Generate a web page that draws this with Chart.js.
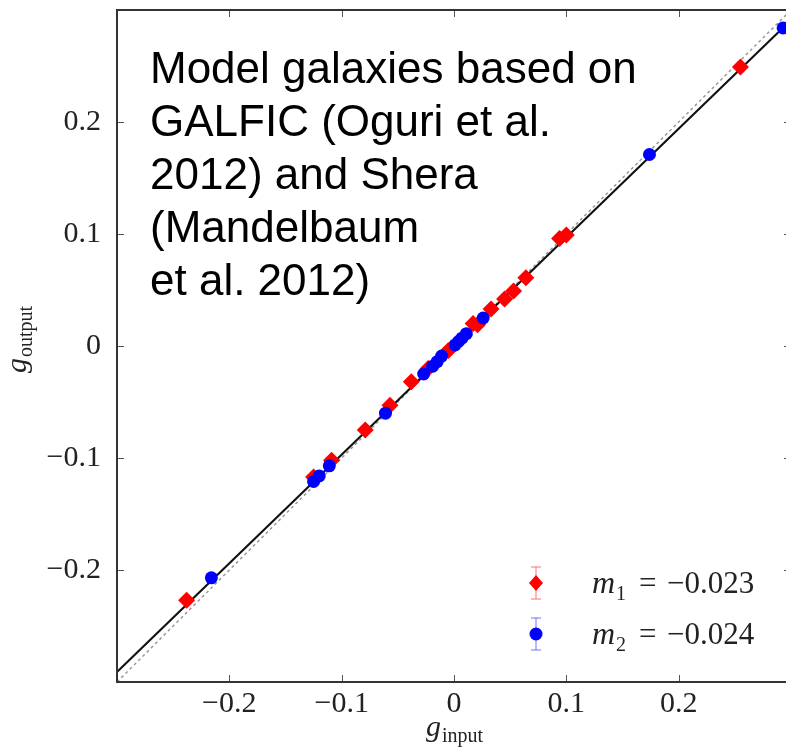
<!DOCTYPE html>
<html lang="en">
<head>
    <meta charset="UTF-8">
    <title>g_output vs g_input</title>
    <style>
        html, body {
            margin: 0;
            padding: 0;
            background: #fff;
            overflow: hidden;
        }
        #wrap {
            position: relative;
            width: 800px;
            height: 749px;
        }
    </style>
</head>
<body>
    <div id="wrap">
        <canvas id="shearChart" width="800" height="749"></canvas>
    </div>

    <script src="https://cdn.jsdelivr.net/npm/chart.js"></script>
    <script>
        // axis ticks
        const xTicks = [-0.2, -0.1, 0, 0.1, 0.2];
        const yTicks = [-0.2, -0.1, 0, 0.1, 0.2];

        // m1 (red diamonds)
        const redX = [-0.238, -0.125, -0.109, -0.079, -0.057, -0.038, -0.023, -0.005, 0.017, 0.021, 0.033, 0.045, 0.053, 0.064, 0.094, 0.100, 0.255];
        const redY = [-0.227, -0.117, -0.102, -0.075, -0.053, -0.032, -0.020, -0.004, 0.020, 0.019, 0.033, 0.042, 0.049, 0.061, 0.096, 0.099, 0.249];

        // m2 (blue circles)
        const blueX = [-0.216, -0.125, -0.120, -0.111, -0.061, -0.027, -0.019, -0.015, -0.011, 0.001, 0.004, 0.007, 0.011, 0.026, 0.174, 0.293];
        const blueY = [-0.207, -0.121, -0.116, -0.107, -0.060, -0.025, -0.018, -0.014, -0.009, 0.001, 0.004, 0.007, 0.011, 0.025, 0.171, 0.284];

        // fit line and y = x reference
        const fitX = [-0.3, 0.3];
        const fitY = [-0.291, 0.291];
        const unityX = [-0.3, 0.3];
        const unityY = [-0.3, 0.3];

        const legendLabels = [
            { sub: '1', value: '\u22120.023', color: '#ff0000', bar: '#ff7070', style: 'diamond' },
            { sub: '2', value: '\u22120.024', color: '#0000ff', bar: '#7070ff', style: 'circle' }
        ];

        const noteLines = [
            'Model galaxies based on',
            'GALFIC (Oguri et al.',
            '2012) and Shera',
            '(Mandelbaum',
            'et al. 2012)'
        ];

        const toPoints = (xs, ys) => xs.map((x, i) => ({ x: x, y: ys[i] }));

        const fmt = v => {
            if (Math.abs(v) < 1e-9) return '0';
            return (v < 0 ? '\u2212' : '') + Math.abs(v).toFixed(1);
        };

        const serif = '"Liberation Serif", "DejaVu Serif", serif';

        // frame, inward ticks, legend, titles and note
        const decorations = {
            id: 'decorations',
            afterDraw(chart) {
                const ctx = chart.ctx;
                const ca = chart.chartArea;
                const xs = chart.scales.x;
                const ys = chart.scales.y;
                ctx.save();

                // inward ticks
                ctx.strokeStyle = '#555';
                ctx.lineWidth = 1;
                ctx.beginPath();
                xTicks.forEach(v => {
                    const px = Math.round(xs.getPixelForValue(v)) + 0.5;
                    ctx.moveTo(px, ca.bottom); ctx.lineTo(px, ca.bottom - 7);
                    ctx.moveTo(px, ca.top); ctx.lineTo(px, ca.top + 7);
                });
                yTicks.forEach(v => {
                    const py = Math.round(ys.getPixelForValue(v)) + 0.5;
                    ctx.moveTo(ca.left, py); ctx.lineTo(ca.left + 7, py);
                    ctx.moveTo(ca.right, py); ctx.lineTo(ca.right - 7, py);
                });
                ctx.stroke();

                // frame
                ctx.strokeStyle = '#333';
                ctx.lineWidth = 2;
                ctx.strokeRect(ca.left, ca.top, ca.right - ca.left, ca.bottom - ca.top);

                // note text
                ctx.fillStyle = '#000';
                ctx.font = '44px "Liberation Sans", Arial, sans-serif';
                ctx.textAlign = 'left';
                ctx.textBaseline = 'alphabetic';
                noteLines.forEach((line, i) => {
                    ctx.fillText(line, ca.left + 33, ca.top + 73 + i * 53);
                });

                // legend
                legendLabels.forEach((item, i) => {
                    const mx = ca.right - 255;
                    const my = ca.bottom - 99 + i * 51;
                    ctx.strokeStyle = item.bar;
                    ctx.lineWidth = 1;
                    ctx.beginPath();
                    ctx.moveTo(mx, my - 16); ctx.lineTo(mx, my + 16);
                    ctx.moveTo(mx - 5, my - 16); ctx.lineTo(mx + 5, my - 16);
                    ctx.moveTo(mx - 5, my + 16); ctx.lineTo(mx + 5, my + 16);
                    ctx.stroke();
                    ctx.fillStyle = item.color;
                    ctx.beginPath();
                    if (item.style === 'diamond') {
                        ctx.moveTo(mx, my - 8); ctx.lineTo(mx + 7, my);
                        ctx.lineTo(mx, my + 8); ctx.lineTo(mx - 7, my);
                        ctx.closePath();
                    } else {
                        ctx.arc(mx, my, 6.5, 0, Math.PI * 2);
                    }
                    ctx.fill();

                    const tx = ca.right - 199;
                    const base = my + 10;
                    ctx.fillStyle = '#222';
                    ctx.font = 'italic 32px ' + serif;
                    ctx.fillText('m', tx, base);
                    const mw = ctx.measureText('m').width;
                    ctx.font = '20px ' + serif;
                    ctx.fillText(item.sub, tx + mw + 1, base + 7);
                    ctx.font = '31px ' + serif;
                    ctx.fillText('=', tx + 47, base);
                    ctx.fillText(item.value, tx + 75, base);
                });

                // axis titles
                ctx.fillStyle = '#222';
                const drawTitle = (sub) => {
                    ctx.font = 'italic 30px ' + serif;
                    const gw = ctx.measureText('g').width;
                    ctx.font = '20px ' + serif;
                    const sw = ctx.measureText(sub).width;
                    const start = -(gw + sw) / 2;
                    ctx.font = 'italic 30px ' + serif;
                    ctx.fillText('g', start, 0);
                    ctx.font = '20px ' + serif;
                    ctx.fillText(sub, start + gw + 1, 6);
                };
                ctx.save();
                ctx.translate((ca.left + ca.right) / 2, chart.height - 13);
                drawTitle('input');
                ctx.restore();
                ctx.save();
                ctx.translate(26, (ca.top + ca.bottom) / 2 - 6);
                ctx.rotate(-Math.PI / 2);
                drawTitle('output');
                ctx.restore();

                ctx.restore();
            }
        };

        new Chart(document.getElementById('shearChart').getContext('2d'), {
            type: 'scatter',
            data: {
                datasets: [
                    {
                        label: 'm2',
                        data: toPoints(blueX, blueY),
                        pointStyle: 'circle',
                        pointRadius: 6.5,
                        backgroundColor: '#0000ff',
                        borderWidth: 0,
                        order: 0
                    },
                    {
                        label: 'm1',
                        data: toPoints(redX, redY),
                        pointStyle: 'rectRot',
                        pointRadius: 8.5,
                        backgroundColor: '#ff0000',
                        borderWidth: 0,
                        order: 1
                    },
                    {
                        label: 'fit',
                        data: toPoints(fitX, fitY),
                        showLine: true,
                        pointRadius: 0,
                        borderColor: '#111',
                        borderWidth: 2,
                        order: 2
                    },
                    {
                        label: 'unity',
                        data: toPoints(unityX, unityY),
                        showLine: true,
                        pointRadius: 0,
                        borderColor: '#999',
                        borderWidth: 1.5,
                        borderDash: [3, 3],
                        order: 3
                    }
                ]
            },
            options: {
                responsive: false,
                animation: false,
                layout: {
                    padding: { top: 10, right: 9, left: 0, bottom: 0 }
                },
                plugins: {
                    legend: { display: false },
                    tooltip: { enabled: false }
                },
                scales: {
                    x: {
                        type: 'linear',
                        min: -0.3,
                        max: 0.3,
                        grid: { display: false },
                        border: { display: false },
                        afterBuildTicks: scale => { scale.ticks = xTicks.map(v => ({ value: v })); },
                        afterFit: scale => {
                            scale.height = 67;
                            scale.paddingLeft = 0;
                            scale.paddingRight = 0;
                        },
                        ticks: {
                            padding: -4,
                            color: '#222',
                            font: { family: serif, size: 30 },
                            maxRotation: 0,
                            callback: v => fmt(v)
                        }
                    },
                    y: {
                        type: 'linear',
                        min: -0.3,
                        max: 0.3,
                        grid: { display: false },
                        border: { display: false },
                        afterBuildTicks: scale => { scale.ticks = yTicks.map(v => ({ value: v })); },
                        afterFit: scale => {
                            scale.width = 117;
                            scale.paddingTop = 0;
                            scale.paddingBottom = 0;
                        },
                        ticks: {
                            padding: 8,
                            color: '#222',
                            font: { family: serif, size: 30 },
                            callback: v => fmt(v)
                        }
                    }
                }
            },
            plugins: [decorations]
        });
    </script>
</body>
</html>
